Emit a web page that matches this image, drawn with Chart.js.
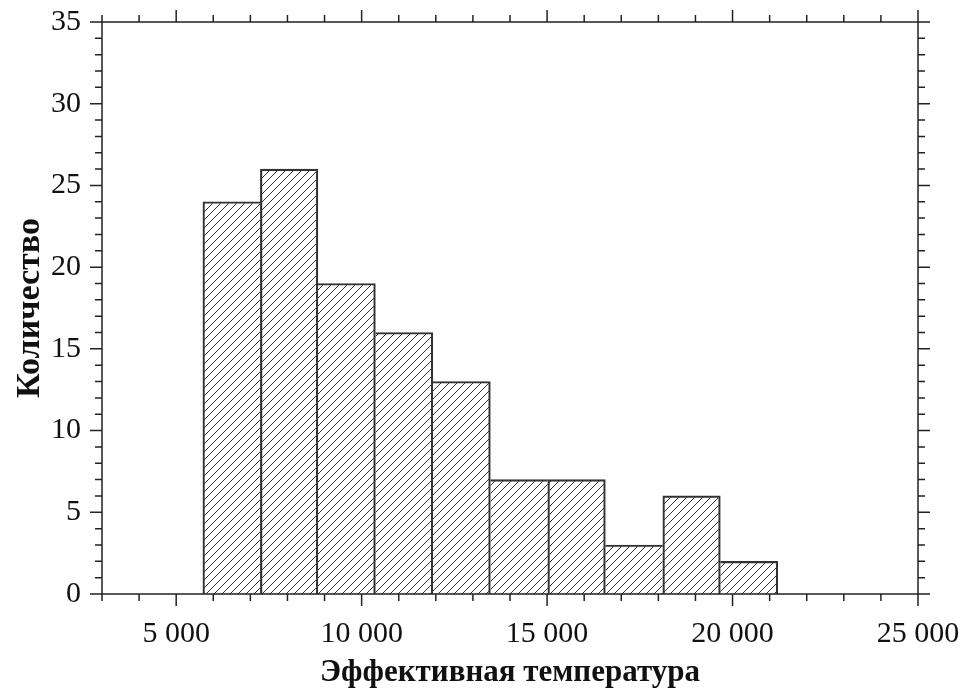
<!DOCTYPE html>
<html>
<head>
<meta charset="utf-8">
<script src="https://cdn.jsdelivr.net/npm/chart.js@4/dist/chart.umd.min.js"></script>
<style>
  html, body { margin: 0; padding: 0; background: #fff; }
  #wrap { width: 967px; height: 688px; }
</style>
</head>
<body>
<div id="wrap"><canvas id="hist"></canvas></div>
<script>
// bin edges (effective temperature) and counts per bin
const binEdges = [5720, 7270, 8820, 10370, 11920, 13470, 15020, 16570, 18120, 19670, 21220];
const counts = [24, 26, 19, 16, 13, 7, 7, 3, 6, 2];
const xTicks = [5000, 10000, 15000, 20000, 25000];
const yTicks = [0, 5, 10, 15, 20, 25, 30, 35];

const points = counts.map(function (c, i) {
    return { x: (binEdges[i] + binEdges[i + 1]) / 2, y: c };
});

function hatch() {
    const p = document.createElement("canvas");
    p.width = 8;
    p.height = 8;
    const g = p.getContext("2d");
    g.strokeStyle = "#333";
    g.lineWidth = 1;
    g.beginPath();
    g.moveTo(0, 8); g.lineTo(8, 0);
    g.moveTo(-2, 2); g.lineTo(2, -2);
    g.moveTo(6, 10); g.lineTo(10, 6);
    g.stroke();
    return g.createPattern(p, "repeat");
}

function fmt(v) {
    return String(v).replace(/\B(?=(\d{3})+(?!\d))/g, " ");
}

// no automatic label overflow padding, the layout padding decides the plot box
function noPad(s) {
    s.paddingLeft = 0;
    s.paddingRight = 0;
    s.paddingTop = 0;
    s.paddingBottom = 0;
}

// frame and outward ticks on all four sides
const frameTicks = {
    id: "frameTicks",
    afterDraw: function (chart) {
        const ctx = chart.ctx;
        const a = chart.chartArea;
        const xs = chart.scales.x, ys = chart.scales.y;
        ctx.save();
        ctx.strokeStyle = "#222";
        ctx.lineWidth = 1.5;
        ctx.strokeRect(a.left, a.top, a.right - a.left, a.bottom - a.top);
        ctx.beginPath();
        for (let v = xs.min; v <= xs.max; v += 1000) {
            const px = xs.getPixelForValue(v);
            const len = v % 5000 === 0 ? 12 : 7;
            ctx.moveTo(px, a.bottom); ctx.lineTo(px, a.bottom + len);
            ctx.moveTo(px, a.top); ctx.lineTo(px, a.top - len);
        }
        for (let v = ys.min; v <= ys.max; v += 1) {
            const py = ys.getPixelForValue(v);
            const len = v % 5 === 0 ? 12 : 7;
            ctx.moveTo(a.left, py); ctx.lineTo(a.left - len, py);
            ctx.moveTo(a.right, py); ctx.lineTo(a.right + len, py);
        }
        ctx.stroke();
        ctx.restore();
    }
};

const ctx = document.getElementById("hist").getContext("2d");

new Chart(ctx, {
    type: "bar",
    data: {
        datasets: [
            {
                label: "Количество",
                data: points,
                backgroundColor: hatch(),
                borderColor: "#333",
                // shared edge between two bins is drawn once, by the taller bin
                borderWidth: function (c) {
                    const i = c.dataIndex;
                    const n = counts.length;
                    const left = i === 0 || counts[i - 1] <= counts[i];
                    const right = i === n - 1 || counts[i + 1] < counts[i];
                    return { top: 1.5, bottom: 0, left: left ? 1.5 : 0, right: right ? 1.5 : 0 };
                },
                borderSkipped: false,
                barPercentage: 1,
                categoryPercentage: 1,
            },
        ],
    },
    options: {
        responsive: true,
        maintainAspectRatio: false,
        animation: false,
        layout: { padding: { left: 0, right: 49, top: 22, bottom: 0 } },
        plugins: {
            legend: { display: false },
            tooltip: { enabled: false },
        },
        scales: {
            x: {
                type: "linear",
                offset: false,
                min: 3000,
                max: 25000,
                afterFit: function (s) { s.height = 94; noPad(s); },
                afterBuildTicks: function (s) {
                    s.ticks = xTicks.map(function (v) { return { value: v }; });
                },
                grid: { display: false, drawTicks: false },
                border: { display: false },
                ticks: {
                    padding: 22,
                    maxRotation: 0,
                    autoSkip: false,
                    color: "#111",
                    font: { family: "Liberation Serif", size: 30 },
                    callback: function (v) { return fmt(v); },
                },
                title: {
                    display: true,
                    text: "Эффективная температура",
                    color: "#111",
                    padding: { top: 0, bottom: 0 },
                    font: { family: "Liberation Serif", size: 31, weight: "bold", lineHeight: 1 },
                },
            },
            y: {
                min: 0,
                max: 35,
                afterFit: function (s) { s.width = 102; noPad(s); },
                afterBuildTicks: function (s) {
                    s.ticks = yTicks.map(function (v) { return { value: v }; });
                },
                grid: { display: false, drawTicks: false },
                border: { display: false },
                ticks: {
                    padding: 21,
                    color: "#111",
                    font: { family: "Liberation Serif", size: 30 },
                },
                title: {
                    display: true,
                    text: "Количество",
                    color: "#111",
                    padding: { top: 13, bottom: 0 },
                    font: { family: "Liberation Serif", size: 34, weight: "bold", lineHeight: 1 },
                },
            },
        },
    },
    plugins: [frameTicks],
});
</script>
</body>
</html>
